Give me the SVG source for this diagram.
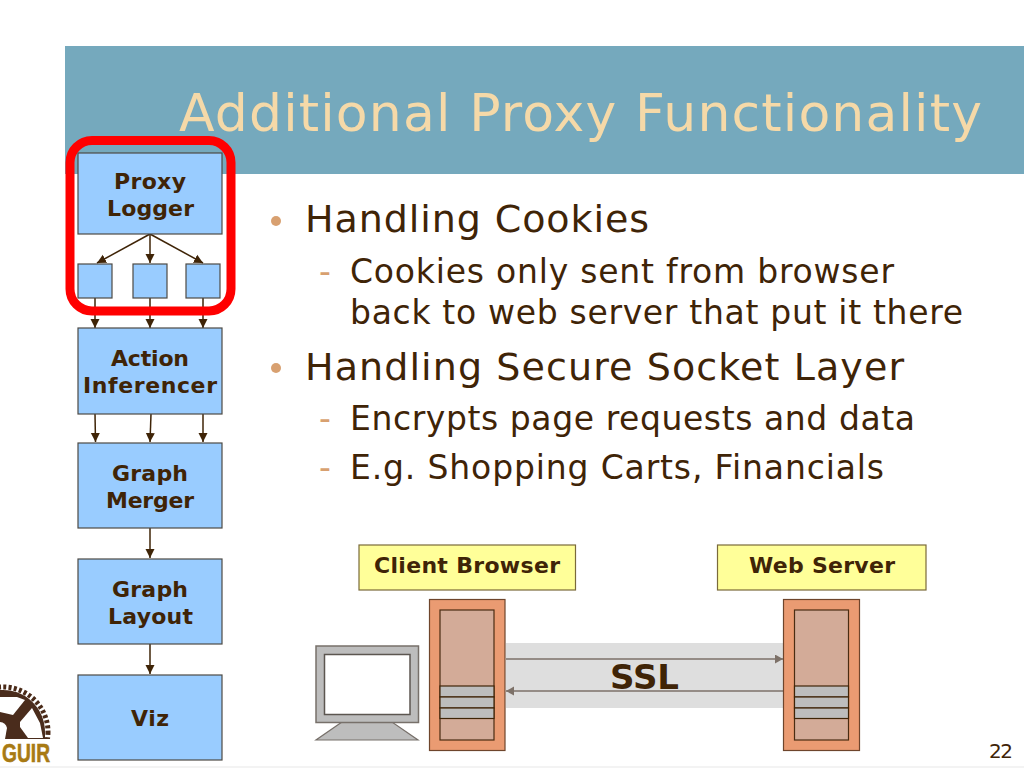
<svg xmlns="http://www.w3.org/2000/svg" width="1024" height="768" viewBox="0 0 1024 768">
<style>
text{font-family:"DejaVu Sans","Verdana",sans-serif;fill:#3f2407}
.n{fill:#99ccff;stroke:#4d4a45;stroke-width:1.2}
.l{font-weight:bold;font-size:22px}
.c{stroke:#3f2407;stroke-width:1.5;fill:none;marker-end:url(#a)}
.y{fill:#ffff99;stroke:#7a6a3a;stroke-width:1.2}
.t{fill:#ea9b72;stroke:#6e452c;stroke-width:1.2}
.i{fill:#d3ab98;stroke:#4a2c12;stroke-width:1.2}
.b{fill:#bdbdbd;stroke:#3f2407;stroke-width:1.2}
.h{font-size:38px}
.s{font-size:33px}
.d{fill:#d8a070}
.g{stroke:#7d7168;stroke-width:1.4;fill:none}
</style>
<defs>
<marker id="a" markerUnits="userSpaceOnUse" markerWidth="10" markerHeight="10" refX="9" refY="5" orient="auto"><path d="M0 .500L9 5L0 9.500z" fill="#3f2407"/></marker>
<marker id="b" markerUnits="userSpaceOnUse" markerWidth="9" markerHeight="10" refX="8" refY="4.500" orient="auto"><path d="M0 0L8 4.500L0 9z" fill="#7d7168"/></marker>
<clipPath id="gc"><rect x="0" y="680" width="60" height="59"/></clipPath>
</defs>
<rect width="1024" height="768" fill="#fff"/>
<rect x="0" y="766" width="1024" height="2" fill="#f3f3f3"/>
<rect x="65" y="46" width="959" height="128" fill="#75a9bd"/>
<text x="179" y="131" font-size="52" textLength="803" style="fill:#f5d9a8">Additional Proxy Functionality</text>

<g id="bullets">
<circle class="d" cx="276" cy="221" r="5"/>
<text class="h" x="305" y="232" textLength="344">Handling Cookies</text>
<text x="319" y="283" class="s" style="fill:#d8a070">-</text>
<text class="s" x="350" y="283" textLength="544">Cookies only sent from browser</text>
<text class="s" x="350" y="324" textLength="613">back to web server that put it there</text>
<circle class="d" cx="276" cy="368" r="5"/>
<text class="h" x="305" y="380" textLength="599">Handling Secure Socket Layer</text>
<text x="319" y="430" class="s" style="fill:#d8a070">-</text>
<text class="s" x="350" y="430" textLength="565">Encrypts page requests and data</text>
<text x="319" y="479" class="s" style="fill:#d8a070">-</text>
<text class="s" x="350" y="479" textLength="534">E.g. Shopping Carts, Financials</text>
</g>

<g id="connectors">
<path class="c" d="M150 234L97 263"/>
<path class="c" d="M150 234V263"/>
<path class="c" d="M150 234L203 263"/>
<path class="c" d="M95 298V328"/>
<path class="c" d="M150 298V328"/>
<path class="c" d="M203 298V328"/>
<path class="c" d="M95 414L95.500 442"/>
<path class="c" d="M151 414L150 442"/>
<path class="c" d="M203 414V442"/>
<path class="c" d="M150 528V558"/>
<path class="c" d="M150 644V674"/>
</g>

<g id="proxy-logger"><rect class="n" x="78" y="153" width="144" height="81"/><text class="l" x="114" y="189" textLength="72">Proxy</text><text class="l" x="107" y="216" textLength="87">Logger</text></g>
<g id="sub-1"><rect class="n" x="78" y="264" width="34" height="34"/></g>
<g id="sub-2"><rect class="n" x="133" y="264" width="34" height="34"/></g>
<g id="sub-3"><rect class="n" x="186" y="264" width="34" height="34"/></g>
<g id="action-inferencer"><rect class="n" x="78" y="328" width="144" height="86"/><text class="l" x="111" y="366" textLength="78">Action</text><text class="l" x="83" y="393" textLength="134">Inferencer</text></g>
<g id="graph-merger"><rect class="n" x="78" y="443" width="144" height="85"/><text class="l" x="112" y="481" textLength="76">Graph</text><text class="l" x="106" y="508" textLength="88">Merger</text></g>
<g id="graph-layout"><rect class="n" x="78" y="559" width="144" height="85"/><text class="l" x="112" y="597" textLength="76">Graph</text><text class="l" x="108" y="624" textLength="85">Layout</text></g>
<g id="viz"><rect class="n" x="78" y="675" width="144" height="85"/><text class="l" x="131" y="726" textLength="38">Viz</text></g>
<rect id="highlight" x="70" y="140.500" width="161" height="170.500" rx="22" fill="none" stroke="#ff0000" stroke-width="9"/>

<g id="ssl-band"><rect x="506" y="643" width="278" height="65" fill="#dedede"/>
<path class="g" d="M506 659H783" marker-end="url(#b)"/>
<path class="g" d="M783 691H506" marker-end="url(#b)"/>
<text x="610" y="689" font-weight="bold" font-size="34" textLength="69">SSL</text></g>

<g id="client-browser"><rect class="y" x="359" y="545" width="216.500" height="45"/><text x="374" y="573" font-weight="bold" font-size="22" textLength="186">Client Browser</text></g>
<g id="web-server"><rect class="y" x="717.500" y="545" width="208.500" height="45"/><text x="749" y="573" font-weight="bold" font-size="22" textLength="146">Web Server</text></g>

<g id="client-tower"><rect class="t" x="429.500" y="599.500" width="75.500" height="151"/><rect class="i" x="440" y="610" width="54" height="130"/><rect class="b" x="440" y="686" width="54" height="11"/><rect class="b" x="440" y="697" width="54" height="11"/><rect class="b" x="440" y="708" width="54" height="10.500"/></g>
<g id="server-tower"><rect class="t" x="783.500" y="599.500" width="76" height="151"/><rect class="i" x="794.500" y="610" width="54" height="130"/><rect class="b" x="794.500" y="686" width="54" height="11"/><rect class="b" x="794.500" y="697" width="54" height="11"/><rect class="b" x="794.500" y="708" width="54" height="10.500"/></g>

<g id="monitor"><path d="M342 722L316 740H418L392 722z" fill="#bdbdbd" stroke="#77706a" stroke-width="1.2"/><rect x="316" y="646" width="102.500" height="76.500" fill="#bdbdbd" stroke="#77706a" stroke-width="1.500"/><rect x="324.500" y="654.500" width="85.500" height="60" fill="#fff" stroke="#5c5650" stroke-width="1.500"/></g>

<g id="logo">
<g clip-path="url(#gc)">
<circle cx="3" cy="732" r="45" fill="none" stroke="#4a2a18" stroke-width="5" stroke-dasharray="3 2.300"/>
<path d="M0 690A42 42 0 0 1 45 732V739H0z" fill="#4a2c1c"/>
<path d="M20 722L32 708L40 723L43 738H28L20 727z" fill="#fff"/>
<path d="M0 697L17 697L25 700L13 715L0 712z" fill="#fff"/>
<path d="M0 722A8 8 0 0 1 7 728L5 739H0z" fill="#fff"/>
</g>
<text x="2" y="762" font-size="26" font-weight="bold" textLength="48" lengthAdjust="spacingAndGlyphs" stroke="#a87a14" stroke-width=".6" style="fill:#a87a14;font-family:'Liberation Sans',sans-serif">GUIR</text>
</g>
<text x="989" y="758" font-size="20" textLength="24">22</text>
</svg>
